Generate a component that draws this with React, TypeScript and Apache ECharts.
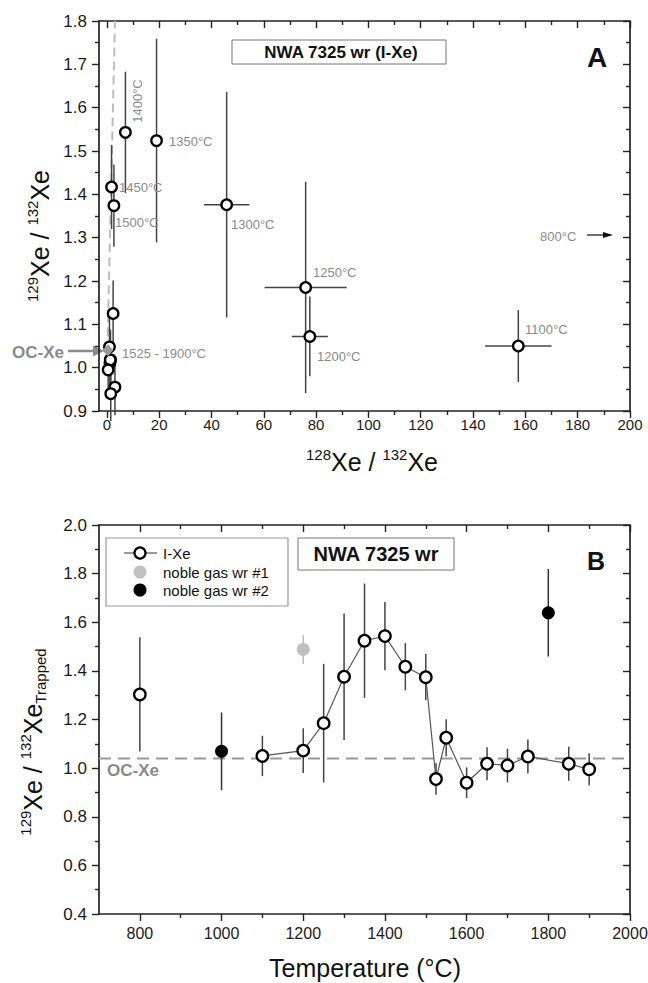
import React, { useEffect, useRef } from "react";
import * as echarts from "echarts";

// ---------------- data ----------------
const temps = [800, 1100, 1200, 1250, 1300, 1350, 1400, 1450, 1500, 1525, 1550, 1600, 1650, 1700, 1750, 1850, 1900];
const xe129 = [1.303, 1.05, 1.072, 1.185, 1.376, 1.524, 1.543, 1.417, 1.374, 0.955, 1.125, 0.94, 1.018, 1.011, 1.048, 1.018, 0.995];
const xe129Err = [0.235, 0.083, 0.092, 0.244, 0.26, 0.235, 0.14, 0.097, 0.095, 0.065, 0.076, 0.063, 0.068, 0.069, 0.07, 0.07, 0.066];
const xe128 = [null, 157.3, 77.6, 76.0, 45.8, 19.0, 7.1, 1.8, 2.7, 3.1, 2.4, 1.5, 1.4, 1.2, 1.0, 1.3, 0.5];
const xe128Err = [null, 12.7, 6.9, 15.7, 8.7, 1.5, 1.0, 0.5, 0.5, 0.6, 0.5, 0.4, 0.4, 0.4, 0.3, 0.3, 0.3];
const connectedFromTemp = 1100;

const ng1Temp = [1200];
const ng1Val = [1.488];
const ng1Err = [0.06];
const ng2Temp = [1000, 1800];
const ng2Val = [1.069, 1.639];
const ng2Err = [0.16, 0.18];

const ocXe = 1.04;
const ocXePointA = [0.4, 1.04];
const ocTrendX = [0.2, 3.1];
const ocTrendY = [1.04, 1.8];

const xTicksA = [0, 20, 40, 60, 80, 100, 120, 140, 160, 180, 200];
const xMinorA = [10, 30, 50, 70, 90, 110, 130, 150, 170, 190];
const yTicksA = [0.9, 1.0, 1.1, 1.2, 1.3, 1.4, 1.5, 1.6, 1.7, 1.8];
const yMinorA = [0.95, 1.05, 1.15, 1.25, 1.35, 1.45, 1.55, 1.65, 1.75];
const xTicksB = [800, 1000, 1200, 1400, 1600, 1800, 2000];
const xMinorB = [900, 1100, 1300, 1500, 1700, 1900];
const yTicksB = [0.4, 0.6, 0.8, 1.0, 1.2, 1.4, 1.6, 1.8, 2.0];
const yMinorB = [0.5, 0.7, 0.9, 1.1, 1.3, 1.5, 1.7, 1.9];

// ---------------- helpers ----------------
const FONT = "'Liberation Sans', Arial, Helvetica, sans-serif";
const AX = "#222";
const GRAY = "#8a8a8a";

function axesFor(dim: "x" | "y", grid: number, min: number, max: number, major: number[], minor: number[], fs: number, margin: number, fmt: (v: number) => string) {
  const mainPos = dim === "x" ? "bottom" : "left";
  const oppPos = dim === "x" ? "top" : "right";
  const base = { type: "value", gridIndex: grid, min, max, splitLine: { show: false } };
  const tickStyle = { color: AX, width: 1.4 };
  return [
    {
      ...base, position: mainPos,
      axisLine: { show: true, onZero: false, lineStyle: { color: AX, width: 1.7 } },
      axisTick: { show: true, inside: false, length: 7, customValues: major, lineStyle: tickStyle },
      axisLabel: { show: true, customValues: major, fontSize: fs, color: "#1a1a1a", margin, fontFamily: FONT, formatter: fmt },
    },
    {
      ...base, position: mainPos,
      axisLine: { show: false, onZero: false },
      axisTick: { show: true, inside: false, length: 4, customValues: minor, lineStyle: tickStyle },
      axisLabel: { show: false },
    },
    {
      ...base, position: oppPos,
      axisLine: { show: true, onZero: false, lineStyle: { color: AX, width: 1.7 } },
      axisTick: { show: true, inside: true, length: 7, customValues: major, lineStyle: tickStyle },
      axisLabel: { show: false },
    },
    {
      ...base, position: oppPos,
      axisLine: { show: false, onZero: false },
      axisTick: { show: true, inside: true, length: 4, customValues: minor, lineStyle: tickStyle },
      axisLabel: { show: false },
    },
  ];
}

function errRender(color: string, width: number) {
  return (params: any, api: any) => {
    const x = api.value(0);
    const y = api.value(1);
    const ex = api.value(2);
    const ey = api.value(3);
    const children: any[] = [];
    if (ey > 0) {
      const p1 = api.coord([x, y - ey]);
      const p2 = api.coord([x, y + ey]);
      children.push({ type: "line", shape: { x1: p1[0], y1: p1[1], x2: p2[0], y2: p2[1] }, style: { stroke: color, lineWidth: width } });
    }
    if (ex > 0) {
      const p1 = api.coord([x - ex, y]);
      const p2 = api.coord([x + ex, y]);
      children.push({ type: "line", shape: { x1: p1[0], y1: p1[1], x2: p2[0], y2: p2[1] }, style: { stroke: color, lineWidth: width } });
    }
    return { type: "group", children };
  };
}

const supRich = {
  m: { fontSize: 25, lineHeight: 30, fontFamily: FONT, fill: "#111", verticalAlign: "middle" },
  s: { fontSize: 15, lineHeight: 16, fontFamily: FONT, fill: "#111", verticalAlign: "top" },
  b: { fontSize: 15, lineHeight: 16, fontFamily: FONT, fill: "#111", verticalAlign: "bottom" },
};

function gText(text: string, x: number, y: number, extra: any = {}, z = 5) {
  return {
    type: "text", x, y, z, silent: true,
    style: { text, fontFamily: FONT, fontSize: 13, fill: GRAY, align: "left", verticalAlign: "middle", ...extra },
  };
}

export default function App() {
  const ref = useRef<HTMLDivElement>(null);

  useEffect(() => {
    if (!ref.current) return;
    const chart = echarts.init(ref.current, null, { renderer: "svg" });

    const idxA = temps.map((_, i) => i).filter((i) => xe128[i] !== null);
    const errDataA = idxA.map((i) => [xe128[i], xe129[i], xe128Err[i], xe129Err[i]]);
    const ptsA = idxA.map((i) => [xe128[i], xe129[i]]);

    const errDataB = temps.map((t, i) => [t, xe129[i], 0, xe129Err[i]]);
    const lineB = temps.map((t, i) => [t, xe129[i]]).filter((p) => p[0] >= connectedFromTemp);
    const isoB = temps.map((t, i) => [t, xe129[i]]).filter((p) => p[0] < connectedFromTemp);

    const circleStyle = { color: "#fff", borderColor: "#000", borderWidth: 2.3, opacity: 1 };

    const option: any = {
      animation: false,
      backgroundColor: "#fff",
      grid: [
        { left: 99, top: 21, width: 531, height: 390, outerBoundsMode: "none" },
        { left: 99, top: 525, width: 531, height: 389, outerBoundsMode: "none" },
      ],
      xAxis: [
        ...axesFor("x", 0, -3, 200, xTicksA, xMinorA, 15, 6, (v: number) => String(v)),
        ...axesFor("x", 1, 700, 2000, xTicksB, xMinorB, 16, 11, (v: number) => String(v)),
      ],
      yAxis: [
        ...axesFor("y", 0, 0.9, 1.8, yTicksA, yMinorA, 17, 12, (v: number) => v.toFixed(1)),
        ...axesFor("y", 1, 0.4, 2.0, yTicksB, yMinorB, 17, 12, (v: number) => v.toFixed(1)),
      ],
      series: [
        // ----- Panel A -----
        {
          type: "line", xAxisIndex: 0, yAxisIndex: 0, z: 1, silent: true,
          data: ocTrendX.map((x, i) => [x, ocTrendY[i]]), symbol: "none",
          lineStyle: { color: "#bdbdbd", width: 2, type: [9, 5] },
        },
        {
          type: "custom", xAxisIndex: 0, yAxisIndex: 0, z: 2, silent: true, clip: false,
          encode: { x: 0, y: 1 }, renderItem: errRender("#444", 1.5), data: errDataA,
        },
        {
          type: "scatter", xAxisIndex: 0, yAxisIndex: 0, z: 3, silent: true,
          symbol: "circle", symbolSize: 10.5, itemStyle: circleStyle, data: ptsA,
        },
        {
          type: "scatter", xAxisIndex: 0, yAxisIndex: 0, z: 4, silent: true,
          symbol: "diamond", symbolSize: [11, 12], itemStyle: { color: "#9a9a9a", opacity: 1 }, data: [ocXePointA],
        },
        // ----- Panel B -----
        {
          type: "line", xAxisIndex: 4, yAxisIndex: 4, z: 1, silent: true,
          data: [[700, ocXe], [2000, ocXe]], symbol: "none",
          lineStyle: { color: "#999", width: 2, type: [12, 7] },
        },
        {
          type: "custom", xAxisIndex: 4, yAxisIndex: 4, z: 2, silent: true, clip: false,
          encode: { x: 0, y: 1 }, renderItem: errRender("#444", 1.5), data: errDataB,
        },
        {
          type: "custom", xAxisIndex: 4, yAxisIndex: 4, z: 2, silent: true, clip: false,
          encode: { x: 0, y: 1 }, renderItem: errRender("#bdbdbd", 1.5),
          data: ng1Temp.map((t, i) => [t, ng1Val[i], 0, ng1Err[i]]),
        },
        {
          type: "custom", xAxisIndex: 4, yAxisIndex: 4, z: 2, silent: true, clip: false,
          encode: { x: 0, y: 1 }, renderItem: errRender("#333", 1.5),
          data: ng2Temp.map((t, i) => [t, ng2Val[i], 0, ng2Err[i]]),
        },
        {
          name: "I-Xe", type: "line", xAxisIndex: 4, yAxisIndex: 4, z: 3, silent: true,
          data: lineB, symbol: "circle", symbolSize: 11.5,
          itemStyle: circleStyle, lineStyle: { color: "#555", width: 1.2 },
        },
        {
          type: "scatter", xAxisIndex: 4, yAxisIndex: 4, z: 3, silent: true,
          data: isoB, symbol: "circle", symbolSize: 11.5, itemStyle: circleStyle,
        },
        {
          name: "noble gas wr #1", type: "scatter", xAxisIndex: 4, yAxisIndex: 4, z: 3, silent: true,
          data: ng1Temp.map((t, i) => [t, ng1Val[i]]), symbol: "circle", symbolSize: 13,
          itemStyle: { color: "#c0c0c0", opacity: 1 },
        },
        {
          name: "noble gas wr #2", type: "scatter", xAxisIndex: 4, yAxisIndex: 4, z: 3, silent: true,
          data: ng2Temp.map((t, i) => [t, ng2Val[i]]), symbol: "circle", symbolSize: 13,
          itemStyle: { color: "#000", opacity: 1 },
        },
      ],
      graphic: [
        // Panel A title box
        { type: "rect", shape: { x: 232, y: 40, width: 214, height: 24 }, style: { fill: "#fff", stroke: "#777", lineWidth: 1 }, z: 10 },
        gText("NWA 7325 wr (I-Xe)", 341, 52, { fontSize: 17, fontWeight: "bold", fill: "#111", align: "center" }, 11),
        gText("A", 597, 57, { fontSize: 28, fontWeight: "bold", fill: "#111", align: "center" }),
        // Panel A axis titles
        {
          type: "text", x: 40, y: 236, rotation: Math.PI / 2, silent: true,
          style: { text: "{s|129}{m|Xe / }{s|132}{m|Xe}", rich: supRich, align: "center", verticalAlign: "middle" },
        },
        {
          type: "text", x: 372, y: 462, silent: true,
          style: { text: "{s|128}{m|Xe / }{s|132}{m|Xe}", rich: supRich, align: "center", verticalAlign: "middle" },
        },
        // Panel A temperature annotations
        { ...gText("1400°C", 137, 101, { align: "center" }), rotation: Math.PI / 2 },
        gText("1350°C", 169, 141),
        gText("1450°C", 119, 187),
        gText("1500°C", 115, 222),
        gText("1300°C", 231, 224),
        gText("1250°C", 313, 272),
        gText("1200°C", 317, 356),
        gText("1100°C", 525, 329),
        gText("800°C", 540, 236),
        gText("1525 - 1900°C", 122, 353),
        { type: "line", silent: true, shape: { x1: 587, y1: 235, x2: 606, y2: 235 }, style: { stroke: "#111", lineWidth: 1.2 } },
        { type: "polygon", silent: true, shape: { points: [[603, 232], [613, 235], [603, 238]] }, style: { fill: "#111" } },
        // OC-Xe arrow panel A
        gText("OC-Xe", 12, 352, { fontSize: 17, fontWeight: "bold" }),
        { type: "line", silent: true, shape: { x1: 68, y1: 351, x2: 95, y2: 351 }, style: { stroke: "#8a8a8a", lineWidth: 2.5 } },
        { type: "polygon", silent: true, shape: { points: [[93, 345.5], [104, 351], [93, 356.5]] }, style: { fill: "#8a8a8a" } },

        // Panel B legend
        { type: "rect", shape: { x: 106, y: 538, width: 182, height: 68 }, style: { fill: "#fff", stroke: "#999", lineWidth: 1.2 }, z: 10 },
        { type: "line", silent: true, z: 11, shape: { x1: 124, y1: 553, x2: 157, y2: 553 }, style: { stroke: "#333", lineWidth: 1.2 } },
        { type: "circle", silent: true, z: 12, shape: { cx: 140, cy: 553, r: 5.5 }, style: { fill: "#fff", stroke: "#000", lineWidth: 2.2 } },
        gText("I-Xe", 163, 553, { fontSize: 15, fill: "#111" }, 12),
        { type: "circle", silent: true, z: 12, shape: { cx: 140, cy: 572, r: 6.5 }, style: { fill: "#c0c0c0" } },
        gText("noble gas wr #1", 163, 572, { fontSize: 15, fill: "#111" }, 12),
        { type: "circle", silent: true, z: 12, shape: { cx: 140, cy: 590, r: 6.5 }, style: { fill: "#000" } },
        gText("noble gas wr #2", 163, 590, { fontSize: 15, fill: "#111" }, 12),
        // Panel B title box
        { type: "rect", shape: { x: 298, y: 538, width: 156, height: 32 }, style: { fill: "#fff", stroke: "#777", lineWidth: 1 }, z: 10 },
        gText("NWA 7325 wr", 376, 554, { fontSize: 20, fontWeight: "bold", fill: "#111", align: "center" }, 11),
        gText("B", 596, 561, { fontSize: 25, fontWeight: "bold", fill: "#111", align: "center" }),
        gText("OC-Xe", 107, 770, { fontSize: 17, fontWeight: "bold" }),
        // Panel B axis titles
        {
          type: "text", x: 33, y: 742, rotation: Math.PI / 2, silent: true,
          style: { text: "{s|129}{m|Xe / }{s|132}{m|Xe}{b|Trapped}", rich: supRich, align: "center", verticalAlign: "middle" },
        },
        gText("Temperature (°C)", 365, 968, { fontSize: 25, fill: "#111", align: "center" }),
      ],
    };

    chart.setOption(option);
    return () => chart.dispose();
  }, []);

  return <div ref={ref} style={{ position: "fixed", left: 0, top: 0, width: 648, height: 983, background: "#fff" }} />;
}
